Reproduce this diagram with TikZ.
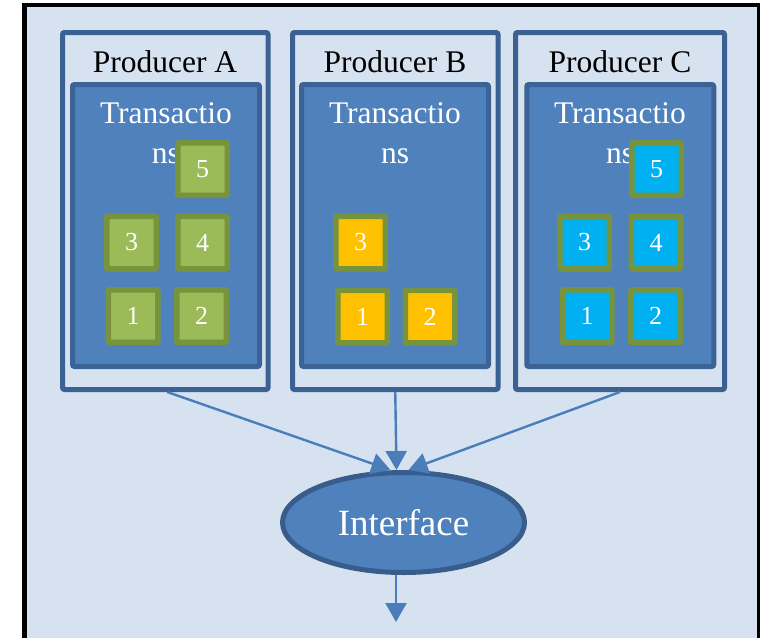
\documentclass[tikz,border=0pt]{standalone}
\usepackage{fontspec}
\setmainfont{Liberation Serif}
\usetikzlibrary{arrows.meta,shapes.geometric}

\definecolor{paper}{HTML}{D7E2F0}
\definecolor{boxedge}{HTML}{3A6192}
\definecolor{innerfill}{HTML}{4F81BD}
\definecolor{inneredge}{HTML}{3B6396}
\definecolor{tokedge}{HTML}{77933C}
\definecolor{tokgreen}{HTML}{9BBB59}
\definecolor{tokyellow}{HTML}{FFC000}
\definecolor{tokcyan}{HTML}{00B0F0}
\definecolor{flow}{HTML}{4A7EBB}
\definecolor{ifcedge}{HTML}{385D8A}

\tikzset{
  producer/.style={draw=boxedge, line width=5pt, fill=paper, rounded corners=2pt,
    minimum height=357pt, inner sep=0pt},
  txbox/.style={draw=inneredge, line width=5pt, fill=innerfill, rounded corners=2pt,
    minimum height=282pt, minimum width=187pt, inner sep=0pt},
  ptitle/.style={anchor=base, font=\fontsize{31.5}{36}\selectfont, inner sep=0pt},
  ttitle/.style={anchor=base, text=white, font=\fontsize{31.5}{36}\selectfont, inner sep=0pt},
  token/.style={draw=tokedge, line width=5.5pt, minimum width=49.5pt, minimum height=52.5pt,
    inner sep=0pt, text=white, font=\fontsize{26}{30}\selectfont, rounded corners=1pt},
  gtok/.style={token, fill=tokgreen},
  ytok/.style={token, fill=tokyellow},
  ctok/.style={token, fill=tokcyan},
  flowarrow/.style={draw=flow, line width=2.4pt,
    -{Triangle[width=21pt,length=19pt]}},
  iface/.style={ellipse, draw=ifcedge, line width=5pt, fill=innerfill,
    minimum width=242pt, minimum height=100pt, inner sep=0pt, text=white,
    font=\fontsize{37}{42}\selectfont}
}

\begin{document}
\begin{tikzpicture}[x=1pt,y=-1pt]
  \useasboundingbox (0,0) rectangle (760,637);
  \clip (0,0) rectangle (760,637);
  \fill[white] (0,0) rectangle (760,637);

  % outer frame
  \draw[black, line width=4.5pt, fill=paper] (24.5,5) rectangle (759,680);

  % producer boxes
  \node[producer, minimum width=205.5pt] (pA) at (165.25,211) {};
  \node[producer, minimum width=205.5pt] (pB) at (395.25,211) {};
  \node[producer, minimum width=209pt]   (pC) at (620,211) {};

  \node[ptitle] (hA) at (165,72) {Producer A};
  \node[ptitle] (hB) at (395,72) {Producer B};
  \node[ptitle] (hC) at (620,72) {Producer C};

  % transaction boxes
  \node[txbox] (xA) at (166,225.5) {};
  \node[txbox] (xB) at (395,225.5) {};
  \node[txbox] (xC) at (620.25,225.5) {};

  \node[ttitle] (tA1) at (166,123) {Transactio};
  \node[ttitle] (tA2) at (166,163) {ns};
  \node[ttitle] (tB1) at (395,123) {Transactio};
  \node[ttitle] (tB2) at (395,163) {ns};
  \node[ttitle] (tC1) at (620,123) {Transactio};
  \node[ttitle] (tC2) at (620,163) {ns};

  % transactions of producer A
  \node[gtok] (a5) at (202.5,169)   {5};
  \node[gtok] (a3) at (131.5,242.5) {3};
  \node[gtok] (a4) at (202.5,242.5) {4};
  \node[gtok] (a1) at (133,316)     {1};
  \node[gtok] (a2) at (201.5,316)   {2};

  % transactions of producer B
  \node[ytok] (b3) at (360.5,242.5) {3};
  \node[ytok] (b1) at (362.5,316.5) {1};
  \node[ytok] (b2) at (430,316.5)   {2};

  % transactions of producer C
  \node[ctok] (c5) at (656.5,169)   {5};
  \node[ctok] (c3) at (584.5,242.5) {3};
  \node[ctok] (c4) at (656,242.5)   {4};
  \node[ctok] (c1) at (587,316)     {1};
  \node[ctok] (c2) at (655.5,316)   {2};

  % interface
  \node[iface] (ifc) at (403.5,522.5) {Interface};
  \coordinate (out) at (396,622);

  \draw[flowarrow] ([xshift=2pt]pA.south) -- ([xshift=-13pt]ifc.north);
  \draw[flowarrow] (pB.south) -- ([xshift=-7pt]ifc.north);
  \draw[flowarrow] (pC.south) -- ([xshift=5pt]ifc.north);
  \draw[flowarrow] ([xshift=-7.5pt]ifc.south) -- (out);
\end{tikzpicture}
\end{document}
